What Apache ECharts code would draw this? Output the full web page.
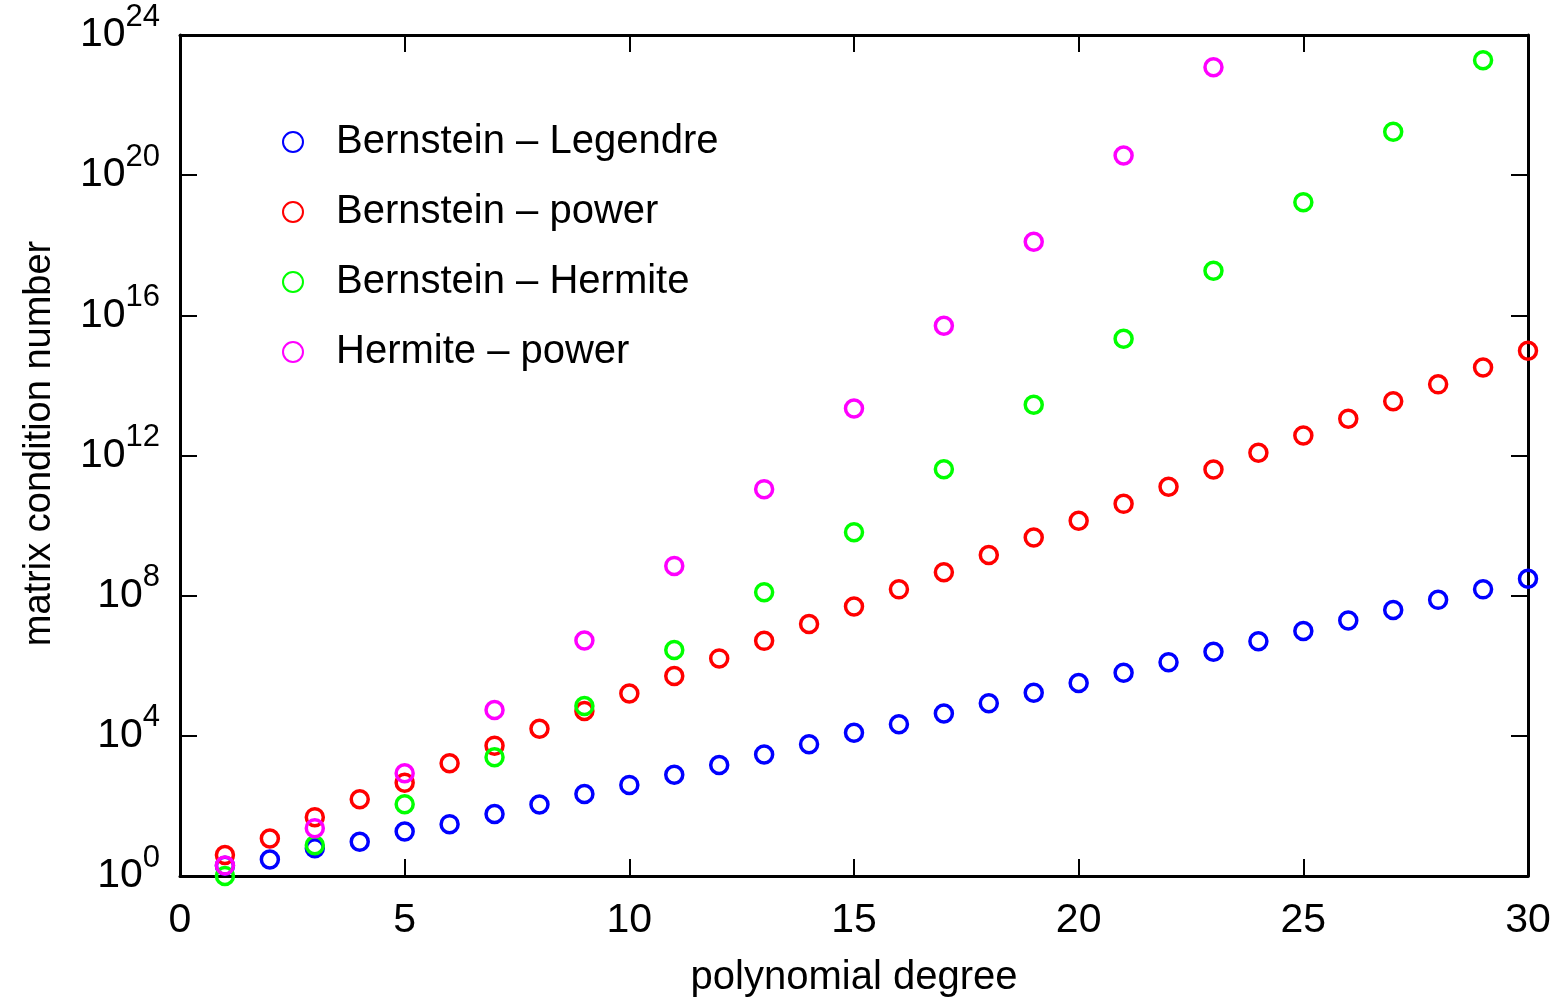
<!DOCTYPE html>
<html>
<head>
<meta charset="utf-8">
<title>matrix condition number</title>
<script src="https://cdn.jsdelivr.net/npm/echarts@6/dist/echarts.min.js"></script>
<style>
  html, body { margin: 0; padding: 0; background: #fff; }
  #chart { width: 1558px; height: 1006px; }
</style>
</head>
<body>
<div id="chart"></div>
<script>
// polynomial degrees
var allDegrees = [1, 2, 3, 4, 5, 6, 7, 8, 9, 10, 11, 12, 13, 14, 15,
                  16, 17, 18, 19, 20, 21, 22, 23, 24, 25, 26, 27, 28, 29, 30];
var oddDegrees = [1, 3, 5, 7, 9, 11, 13, 15, 17, 19, 21, 23, 25, 27, 29];

// log10 of condition number
var legendreLog = [0.29, 0.47, 0.79, 0.98, 1.27, 1.48, 1.77, 2.04, 2.34, 2.6,
                   2.89, 3.17, 3.47, 3.76, 4.09, 4.33, 4.64, 4.93, 5.23, 5.51,
                   5.8, 6.1, 6.4, 6.7, 6.99, 7.29, 7.59, 7.88, 8.18, 8.48];
var powerLog = [0.6, 1.07, 1.68, 2.19, 2.66, 3.22, 3.72, 4.2, 4.71, 5.21,
                5.71, 6.21, 6.71, 7.19, 7.69, 8.18, 8.67, 9.16, 9.66, 10.14,
                10.62, 11.11, 11.6, 12.08, 12.57, 13.05, 13.55, 14.03, 14.51, 14.99];
var hermiteLog = [0, 0.88, 2.05, 3.39, 4.85, 6.45, 8.1, 9.81, 11.61, 13.45,
                  15.33, 17.27, 19.23, 21.24, 23.28];
var hermitePowerLog = [0.3, 1.36, 2.93, 4.74, 6.72, 8.85, 11.04, 13.34, 15.7, 18.1,
                       20.56, 23.08];

var seriesNames = ['Bernstein \u2013 Legendre', 'Bernstein \u2013 power',
                   'Bernstein \u2013 Hermite', 'Hermite \u2013 power'];
var seriesColors = ['#0000ff', '#ff0000', '#00ff00', '#ff00ff'];

function pairs(xs, ys) {
    var out = [];
    for (var i = 0; i < ys.length; i++) {
        out.push([xs[i], ys[i]]);
    }
    return out;
}

var font = 'Liberation Sans, Arial, Helvetica, sans-serif';
var tickStyle = { inside: true, length: 17, lineStyle: { color: '#000', width: 2 } };
var lineStyle = { show: true, onZero: false, lineStyle: { color: '#000', width: 3 } };

var seriesData = [
    pairs(allDegrees, legendreLog),
    pairs(allDegrees, powerLog),
    pairs(oddDegrees, hermiteLog),
    pairs(oddDegrees, hermitePowerLog)
];

var series = [];
for (var s = 0; s < seriesNames.length; s++) {
    series.push({
        name: seriesNames[s],
        type: 'scatter',
        data: seriesData[s],
        symbol: 'circle',
        symbolSize: 17,
        clip: false,
        itemStyle: {
            color: 'rgba(255,255,255,0)',
            borderColor: seriesColors[s],
            borderWidth: 3.5,
            opacity: 1
        },
        emphasis: { disabled: true }
    });
}

var myChart = echarts.init(document.getElementById('chart'));
var option = {
    animation: false,
    backgroundColor: '#fff',
    textStyle: { fontFamily: font },
    grid: { left: 180, right: 30, top: 35, bottom: 130, containLabel: false },
    legend: {
        orient: 'vertical',
        left: 282,
        top: 122,
        padding: 0,
        itemWidth: 20,
        itemHeight: 20,
        itemGap: 30,
        selectedMode: false,
        textStyle: { fontSize: 40, lineHeight: 40, color: '#000', fontFamily: font, padding: [0, 0, 0, 28] },
        data: seriesNames
    },
    xAxis: [{
        type: 'value',
        min: 0,
        max: 30,
        interval: 5,
        position: 'bottom',
        axisLine: lineStyle,
        axisTick: tickStyle,
        splitLine: { show: false },
        axisLabel: { fontSize: 41, color: '#000', margin: 24, fontFamily: font },
        name: 'polynomial degree',
        nameLocation: 'middle',
        nameGap: 82,
        nameTextStyle: { fontSize: 40, color: '#000', fontFamily: font }
    }, {
        type: 'value',
        min: 0,
        max: 30,
        interval: 5,
        position: 'top',
        axisLine: lineStyle,
        axisTick: tickStyle,
        splitLine: { show: false },
        axisLabel: { show: false }
    }],
    yAxis: [{
        type: 'value',
        min: 0,
        max: 24,
        interval: 4,
        position: 'left',
        axisLine: lineStyle,
        axisTick: tickStyle,
        splitLine: { show: false },
        axisLabel: {
            margin: 20,
            color: '#000',
            formatter: function (v) {
                return '{b|10}{s|' + v + '}';
            },
            rich: {
                b: { fontSize: 41, lineHeight: 41, verticalAlign: 'middle', color: '#000', fontFamily: font },
                s: { fontSize: 31, lineHeight: 31, verticalAlign: 'middle', padding: [0, 0, 36, 0], color: '#000', fontFamily: font }
            }
        },
        name: 'matrix condition number',
        nameLocation: 'middle',
        nameGap: 121,
        nameTextStyle: { fontSize: 38, color: '#000', fontFamily: font, padding: [0, 0, 0, 24] }
    }, {
        type: 'value',
        min: 0,
        max: 24,
        interval: 4,
        position: 'right',
        axisLine: lineStyle,
        axisTick: tickStyle,
        splitLine: { show: false },
        axisLabel: { show: false }
    }],
    series: series
};

if (option && typeof option === 'object') {
    myChart.setOption(option, true);
}
</script>
</body>
</html>
